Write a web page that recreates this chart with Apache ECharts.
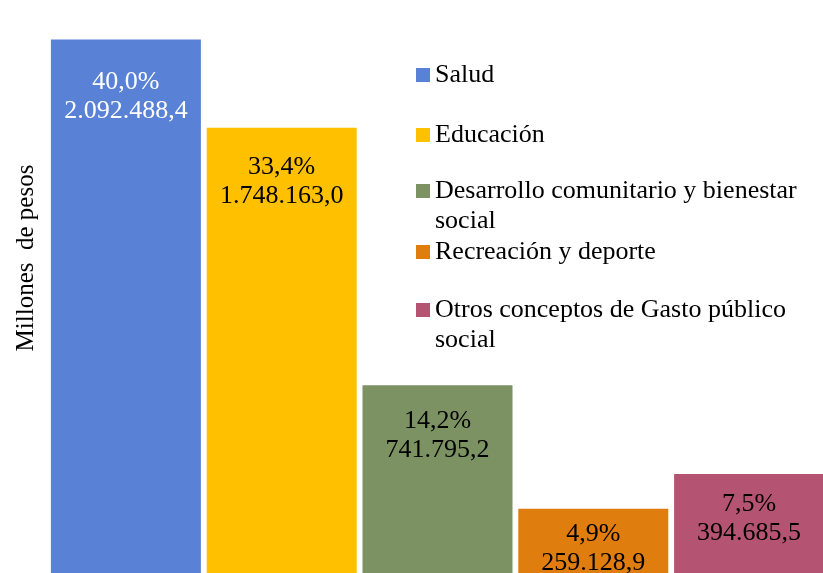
<!DOCTYPE html>
<html>
<head>
<meta charset="utf-8">
<script src="https://cdn.jsdelivr.net/npm/echarts@6/dist/echarts.min.js"></script>
<style>
  html, body { margin: 0; padding: 0; background: #fff; }
</style>
</head>
<body>
<div id="chart" style="width:823px; height:573px;"></div>
<script>
// categorías y valores (millones de pesos)
const categories = [
  'Salud',
  'Educación',
  'Desarrollo comunitario y bienestar social',
  'Recreación y deporte',
  'Otros conceptos de Gasto público social'
];
// texto de la leyenda, con el salto de línea del original
const legendLabels = [
  'Salud',
  'Educación',
  'Desarrollo comunitario y bienestar\nsocial',
  'Recreación y deporte',
  'Otros conceptos de Gasto público\nsocial'
];
const values = [2092488.4, 1748163.0, 741795.2, 259128.9, 394685.5];
const percents = [40.0, 33.4, 14.2, 4.9, 7.5];

const colors = ['#5982d6', '#ffc000', '#7d9263', '#df7e0f', '#b55373'];
const labelColors = ['#ffffff', '#000000', '#000000', '#000000', '#000000'];
const labelDist = [28, 25, 22, 11, 16];   // distancia de la etiqueta al borde superior
const legendTops = [60, 120, 146, 237, 265];

const FONT = "'Liberation Serif', 'Times New Roman', serif";

function fmtNum(v) {
  const parts = v.toFixed(1).split('.');
  return parts[0].replace(/\B(?=(\d{3})+(?!\d))/g, '.') + ',' + parts[1];
}
function fmtPct(p) {
  return p.toFixed(1).replace('.', ',') + '%';
}

const series = categories.map((name, i) => ({
  name: name,
  type: 'bar',
  stack: 'total',
  barWidth: 150,
  itemStyle: { color: colors[i] },
  label: {
    show: true,
    position: 'insideTop',
    distance: labelDist[i],
    color: labelColors[i],
    fontFamily: FONT,
    fontSize: 26,
    lineHeight: 29,
    formatter: () => fmtPct(percents[i]) + '\n' + fmtNum(values[i])
  },
  data: categories.map((c, j) => (j === i ? values[i] : '-'))
}));

// una leyenda por elemento, para que el texto largo baje sin mover el resto
const legends = categories.map((name, i) => {
  // línea vacía arriba: así el icono queda a la altura de la primera línea
  const txt = legendLabels[i].indexOf('\n') >= 0 ? ' \n' + legendLabels[i] : legendLabels[i];
  return {
    data: [name],
    orient: 'vertical',
    left: 416,
    top: legendTops[i],
    padding: 0,
    itemWidth: 14,
    itemHeight: 14,
    icon: 'rect',
    selectedMode: false,
    formatter: () => txt,
    textStyle: {
      fontFamily: FONT,
      fontSize: 26,
      lineHeight: 30,
      color: '#000'
    }
  };
});

const chart = echarts.init(document.getElementById('chart'));
chart.setOption({
  animation: false,
  // la última barra y la base se salen un poco del lienzo, como en el original
  grid: { left: 48, width: 779, top: 12, height: 563, outerBoundsMode: 'none' },
  xAxis: {
    type: 'category',
    data: categories,
    show: false
  },
  yAxis: {
    type: 'value',
    min: 0,
    max: 2200000,
    show: false
  },
  legend: legends,
  graphic: [{
    type: 'text',
    x: 26,
    y: 258,
    rotation: Math.PI / 2,
    style: {
      text: 'Millones  de pesos',
      fontFamily: FONT,
      fontSize: 25,
      fill: '#000',
      textAlign: 'center',
      textVerticalAlign: 'middle'
    }
  }],
  series: series
});
</script>
</body>
</html>
